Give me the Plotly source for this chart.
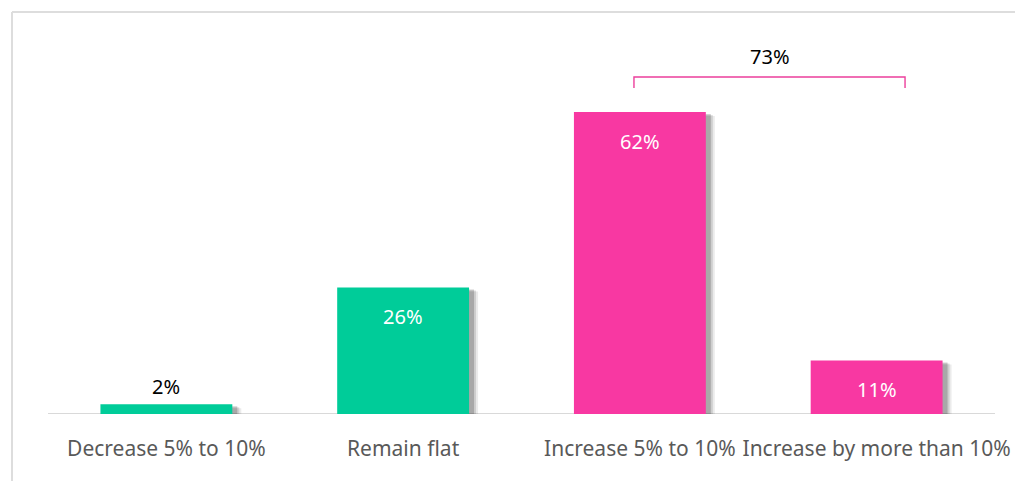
import plotly.graph_objects as go

categories = ["Decrease 5% to 10%", "Remain flat", "Increase 5% to 10%", "Increase by more than 10%"]
values = [2, 26, 62, 11]
colors = ["#00CC99", "#00CC99", "#F838A2", "#F838A2"]
label_inside = [False, True, True, True]
bracket_label = "73%"

W, H = 1015, 481
L, R, T, B = 48, 20, 60, 67
pw, ph = W - L - R, H - T - B
ymax = 72.7
FONT = "Noto Sans"

def px_to_xp(px):
    return (px - L) / pw

def py_to_yp(py):
    return (H - B - py) / ph

fig = go.Figure()

bw = 0.557
for dx, dy, op in [(9, 4, 0.08), (7, 3, 0.12), (5, 2, 0.18)]:
    fig.add_trace(go.Bar(
        x=list(range(4)), y=values, base=[-dy / ph * ymax] * 4,
        width=bw, offset=-bw / 2 + dx / (pw / 4),
        marker=dict(color=f"rgba(0,0,0,{op})", line=dict(width=0)),
        hoverinfo="skip", showlegend=False,
    ))

fig.add_trace(go.Bar(
    x=list(range(4)), y=values, width=bw, offset=-bw / 2,
    marker=dict(color=colors, line=dict(width=0)),
    showlegend=False,
))

annotations = []
for i, v in enumerate(values):
    inside = label_inside[i]
    annotations.append(dict(
        x=i, y=v, xref="x", yref="y", text=f"{v}%", showarrow=False,
        yanchor="middle", yshift=-29 if inside else 18,
        font=dict(family=FONT, size=20, color="#FFFFFF" if inside else "#000000"),
    ))

shapes = []
shapes.append(dict(type="line", xref="paper", yref="y", x0=0, x1=1, y0=0, y1=0,
                   line=dict(color="#D9D9D9", width=2), layer="below"))
shapes.append(dict(type="line", xref="paper", yref="paper", x0=px_to_xp(12), x1=px_to_xp(1016),
                   y0=py_to_yp(12), y1=py_to_yp(12), line=dict(color="#DDDDDD", width=2)))
shapes.append(dict(type="line", xref="paper", yref="paper", x0=px_to_xp(12), x1=px_to_xp(12),
                   y0=py_to_yp(12), y1=py_to_yp(482), line=dict(color="#DDDDDD", width=2)))
bx0, bx1 = 1.975, 3.12
by_top, by_bot = py_to_yp(77) * ymax, py_to_yp(88) * ymax
pink = "#EC3F9C"
shapes.append(dict(type="path", xref="x", yref="y",
                   path=f"M {bx0},{by_bot} L {bx0},{by_top} L {bx1},{by_top} L {bx1},{by_bot}",
                   line=dict(color=pink, width=1.4)))

annotations.append(dict(x=px_to_xp(770), y=py_to_yp(56), xref="paper", yref="paper",
                        xanchor="center", yanchor="middle",
                        text=bracket_label, showarrow=False,
                        font=dict(family=FONT, size=20, color="#000000")))

fig.update_layout(
    width=W, height=H,
    margin=dict(l=L, r=R, t=T, b=B),
    paper_bgcolor="white", plot_bgcolor="white",
    barmode="overlay",
    shapes=shapes,
    annotations=annotations,
    xaxis=dict(range=[-0.5, 3.5], tickmode="array", tickvals=list(range(4)), ticktext=categories,
               showgrid=False, zeroline=False, showline=False, ticks="",
               ticklabelstandoff=20, automargin=False,
               tickfont=dict(family=FONT, size=21, color="#595959")),
    yaxis=dict(range=[0, ymax], visible=False, showgrid=False, zeroline=False, automargin=False),
)

fig.write_html("out.html")
